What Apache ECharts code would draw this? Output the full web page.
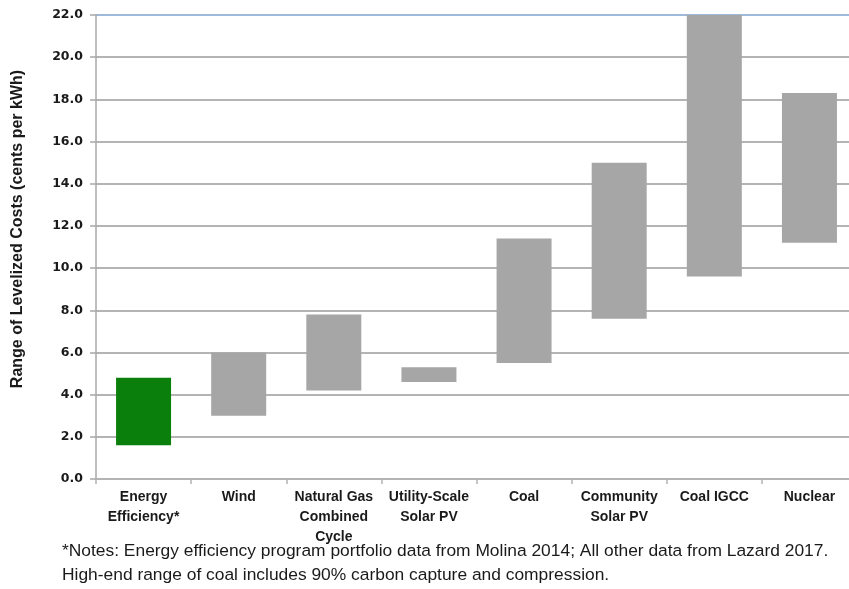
<!DOCTYPE html>
<html>
<head>
<meta charset="utf-8">
<script src="https://cdn.jsdelivr.net/npm/echarts@6/dist/echarts.min.js"></script>
<style>
html,body{margin:0;padding:0;background:#fff;}
#chart{width:849px;height:589px;}
</style>
</head>
<body>
<div id="chart"></div>
<script>
var categories = ['Energy\nEfficiency*', 'Wind', 'Natural Gas\nCombined\nCycle', 'Utility-Scale\nSolar PV', 'Coal', 'Community\nSolar PV', 'Coal IGCC', 'Nuclear'];
var lowValues = [1.6, 3.0, 4.2, 4.6, 5.5, 7.6, 9.6, 11.2];
var highValues = [4.8, 6.0, 7.8, 5.3, 11.4, 15.0, 22.0, 18.3];
var barColors = ['#0b7f0b', '#a6a6a6', '#a6a6a6', '#a6a6a6', '#a6a6a6', '#a6a6a6', '#a6a6a6', '#a6a6a6'];
var yTicks = [0, 2, 4, 6, 8, 10, 12, 14, 16, 18, 20, 22];
var noteLines = [
  '*Notes: Energy efficiency program portfolio data from Molina 2014; All other data from Lazard 2017.',
  'High-end range of coal includes 90% carbon capture and compression.'
];
var yTitle = 'Range of Levelized Costs (cents per kWh)';

var rangeValues = highValues.map(function (h, i) { return +(h - lowValues[i]).toFixed(2); });
var splitColors = yTicks.map(function (t, i) { return i === yTicks.length - 1 ? '#9fb9da' : '#b4b4b4'; });

var chart = echarts.init(document.getElementById('chart'), null, {renderer: 'canvas'});
chart.setOption({
  animation: false,
  backgroundColor: '#ffffff',
  grid: {left: 96, top: 15, height: 464, width: 761, containLabel: false, outerBoundsMode: 'none'},
  xAxis: {
    type: 'category',
    data: categories,
    axisLine: {show: true, lineStyle: {color: '#b4b4b4', width: 2}},
    axisTick: {show: true, alignWithLabel: false, length: 5, lineStyle: {color: '#b4b4b4', width: 1.5}},
    axisLabel: {
      interval: 0, margin: 8, color: '#1a1a1a',
      fontFamily: 'Liberation Sans', fontWeight: 'bold', fontSize: 14, lineHeight: 20
    }
  },
  yAxis: {
    type: 'value',
    min: 0, max: 22, interval: 2,
    axisLine: {show: true, lineStyle: {color: '#a8a8a8', width: 1.5}},
    axisTick: {show: true, length: 6, lineStyle: {color: '#a8a8a8', width: 1.5}},
    axisLabel: {
      margin: 13, color: '#1a1a1a',
      fontFamily: 'DejaVu Sans', fontWeight: 'bold', fontSize: 12.5,
      formatter: function (v) { return v.toFixed(1); }
    },
    splitLine: {show: true, lineStyle: {color: splitColors, width: 2}}
  },
  series: [
    {
      type: 'bar', stack: 'range', data: lowValues, barWidth: 55,
      itemStyle: {color: 'rgba(0,0,0,0)'}, silent: true
    },
    {
      type: 'bar', stack: 'range', barWidth: 55,
      data: rangeValues.map(function (v, i) { return {value: v, itemStyle: {color: barColors[i]}}; })
    }
  ],
  graphic: [
    {
      type: 'text',
      x: 18, y: 229, rotation: Math.PI / 2,
      style: {
        text: yTitle, fill: '#1a1a1a', align: 'center', verticalAlign: 'middle',
        font: 'bold 16px "Liberation Sans"'
      }
    },
    {
      type: 'text', x: 62, y: 551,
      style: {text: noteLines[0], fill: '#1a1a1a', verticalAlign: 'middle', font: '17.4px "Liberation Sans"'}
    },
    {
      type: 'text', x: 62, y: 575,
      style: {text: noteLines[1], fill: '#1a1a1a', verticalAlign: 'middle', font: '17.4px "Liberation Sans"'}
    }
  ]
});
</script>
</body>
</html>
